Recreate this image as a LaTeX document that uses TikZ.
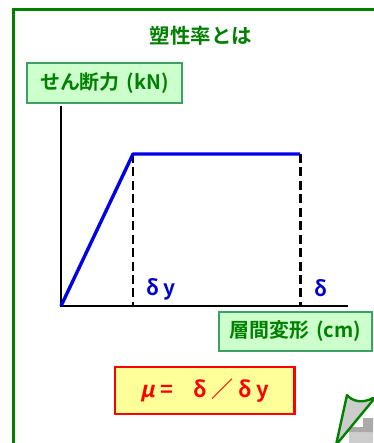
\documentclass[tikz,border=0pt]{standalone}
\usepackage{fontspec}
\newfontfamily\jpb{Noto Sans CJK JP Bold}
\newfontfamily\jpbsl[FakeSlant=0.22]{Noto Sans CJK JP Bold}
\definecolor{dkgreen}{RGB}{0,128,0}
\definecolor{boxborder}{RGB}{60,160,100}
\definecolor{boxfill}{RGB}{204,255,204}
\definecolor{lyellow}{RGB}{255,255,153}
\definecolor{myblue}{RGB}{0,0,230}
\definecolor{lblblue}{RGB}{0,0,204}
\definecolor{curlgray}{RGB}{204,204,204}
\definecolor{stepgray}{RGB}{170,170,170}
\definecolor{stepgrayb}{RGB}{205,205,205}
\tikzset{
  lblbox/.style={draw=boxborder, fill=boxfill, line width=2.5pt, text=dkgreen,
    font=\jpb\fontsize{20}{22}\selectfont, inner sep=0pt, anchor=center},
  axisline/.style={line width=3pt, black},
  curve/.style={line width=3.4pt, myblue, line join=round},
  dashline/.style={line width=3pt, black, dash pattern=on 9pt off 4.5pt},
  glabel/.style={text=lblblue, font=\jpb\fontsize{21}{22}\selectfont, inner sep=0pt},
}
\begin{document}
\begin{tikzpicture}[x=1bp,y=-1bp]
\useasboundingbox (0,0) rectangle (373,443);
\fill[white] (0,0) rectangle (373,443);
% frame
\draw[dkgreen, line width=2.6pt] (13.3,460) -- (13.3,9.3) -- (390,9.3);
% title
\node[text=dkgreen, font=\jpb\fontsize{20.5}{22}\selectfont, inner sep=0pt] (title) at (201,36) {塑性率とは};
% y label box
\node[lblbox, minimum width=155bp, minimum height=40bp] (ylab) at (104.5,83) {せん断力\hspace{7bp}(kN)};
% axes
\coordinate (O) at (61,306);
\coordinate (ytop) at (61,106);
\coordinate (xend) at (348,306);
\coordinate (P1) at (133,154);
\coordinate (P2) at (300,154);
\coordinate (B1) at (133,306);
\coordinate (B2) at (300,306);
\draw[dashline] (P1) -- (B1);
\draw[dashline] (P2) -- (B2);
\draw[axisline] (ytop) -- (O) -- (xend);
\draw[curve] (O) -- (P1) -- (P2);
\node[glabel] (dy) at (161,289) {δ\hspace{4bp}y};
\node[glabel] (d) at (321,288) {δ};
% x label box
\node[lblbox, minimum width=153bp, minimum height=39bp] (xlab) at (295.5,331.5) {層間変形\hspace{7bp}(cm)};
% formula box
\node[draw=red, fill=lyellow, line width=3pt, minimum width=179bp, minimum height=47bp,
  text=red, font=\jpb\fontsize{22}{24}\selectfont, inner sep=0pt] (formula) at (204.5,390.5)
  {{\jpbsl μ}\hspace{6bp}=\hspace{20bp}δ\hspace{5bp}／\hspace{5bp}δ\hspace{4bp}y};
% page curl (partially visible)
\fill[stepgrayb] (349,443) -- (349,427) -- (373,427) -- (373,443) -- cycle;
\fill[stepgray] (349,427) -- (349,432) -- (373,432) -- (373,418) -- (363,418) -- (363,427) -- cycle;
\draw[dkgreen, line width=2.4pt, fill=curlgray, line join=round]
  (336,445) -- (347,395) .. controls (352,401) and (362,404) .. (373,398) -- (374,399) -- cycle;
\end{tikzpicture}
\end{document}
